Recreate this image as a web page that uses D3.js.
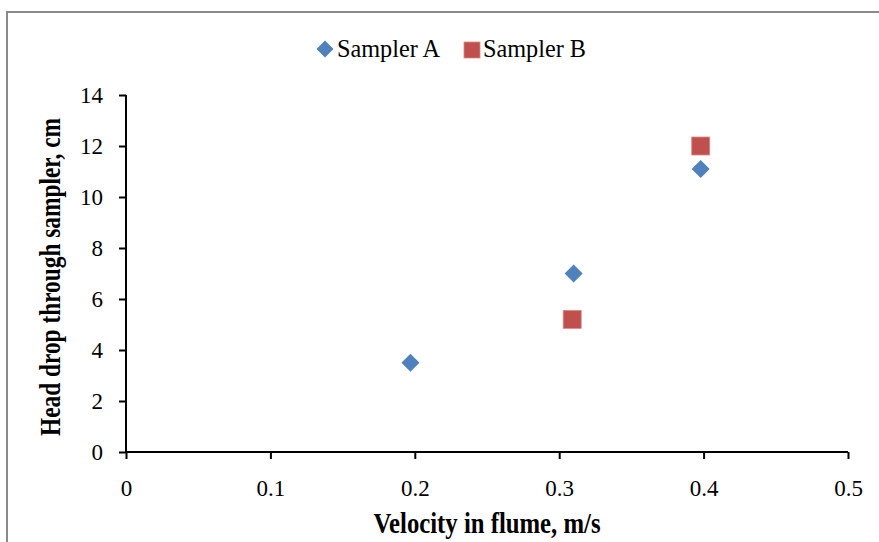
<!DOCTYPE html>
<html>
<head>
<meta charset="utf-8">
<script src="https://cdn.jsdelivr.net/npm/d3@7"></script>
<style>
  html, body { margin: 0; padding: 0; background: #fff; }
  svg { display: block; }
  text { font-family: "Liberation Serif", "Times New Roman", serif; fill: #000; }
</style>
</head>
<body>
<svg id="chart" width="879" height="542"></svg>
<script>
// ---- data ----
const seriesNames = ["Sampler A", "Sampler B"];
const samplerA_x = [0.197, 0.310, 0.398];
const samplerA_y = [3.5, 7.0, 11.1];
const samplerB_x = [0.309, 0.398];
const samplerB_y = [5.2, 12.0];
const xTicks = [0, 0.1, 0.2, 0.3, 0.4, 0.5];
const yTicks = [0, 2, 4, 6, 8, 10, 12, 14];
const xTitle = "Velocity in flume, m/s";
const yTitle = "Head drop through sampler, cm";

// ---- setup ----
const serif = "'Liberation Serif', 'Times New Roman', serif";
const svg = d3.select("#chart");
const W = 879, H = 542;

svg.append("rect").attr("x", 0).attr("y", 0).attr("width", W).attr("height", H).attr("fill", "#fff");
// chart frame (extends beyond right/bottom of view)
svg.append("rect")
  .attr("x", 7).attr("y", 12).attr("width", W + 20).attr("height", H + 20)
  .attr("fill", "none").attr("stroke", "#8a8a8a").attr("stroke-width", 2);

const x = d3.scaleLinear().domain([0, 0.5]).range([126, 848]);
const y = d3.scaleLinear().domain([0, 14]).range([452, 95]);

// axes
const xAxis = d3.axisBottom(x).tickValues(xTicks).tickSize(7).tickFormat(d => d === 0 ? "0" : d3.format(".1f")(d));
const yAxis = d3.axisLeft(y).tickValues(yTicks).tickSize(7).tickFormat(d3.format("d"));

const gx = svg.append("g").attr("transform", `translate(0,${y(0)})`).call(xAxis);
gx.attr("font-family", serif);
gx.select(".domain").attr("d", `M${x(0)},0H${x(0.5)}`).attr("stroke", "#000").attr("stroke-width", 2);
gx.selectAll(".tick line").attr("stroke", "#000").attr("stroke-width", 2);
gx.selectAll(".tick text")
  .attr("y", 44).attr("dy", null)
  .style("font-family", serif)
  .style("font-size", "23px").attr("fill", "#000");

const gy = svg.append("g").attr("transform", `translate(${x(0)},0)`).call(yAxis);
gy.attr("font-family", serif);
gy.select(".domain").attr("d", `M0,${y(0)}V${y(14)}`).attr("stroke", "#000").attr("stroke-width", 2);
gy.selectAll(".tick line").attr("stroke", "#000").attr("stroke-width", 2);
gy.selectAll(".tick text")
  .attr("x", -23).attr("dy", "0.34em")
  .style("font-family", serif)
  .style("font-size", "23px").attr("fill", "#000");

// axis titles (condensed bold)
svg.append("text")
  .attr("x", 487).attr("y", 533)
  .attr("text-anchor", "middle")
  .attr("textLength", 227).attr("lengthAdjust", "spacingAndGlyphs")
  .style("font-family", serif)
  .style("font-size", "29px").style("font-weight", "bold")
  .text(xTitle);

svg.append("text")
  .attr("transform", `translate(60,277) rotate(-90)`)
  .attr("text-anchor", "middle")
  .attr("textLength", 318).attr("lengthAdjust", "spacingAndGlyphs")
  .style("font-family", serif)
  .style("font-size", "29px").style("font-weight", "bold")
  .text(yTitle);

// markers
const colA = "#4F81BD", colB = "#C0504D";
const diamond = s => `M0,${-s}L${s},0L0,${s}L${-s},0Z`;

const dataA = samplerA_x.map((v, i) => ({x: v, y: samplerA_y[i]}));
const dataB = samplerB_x.map((v, i) => ({x: v, y: samplerB_y[i]}));

svg.append("g").selectAll("path").data(dataA).join("path")
  .attr("transform", d => `translate(${x(d.x)},${y(d.y)})`)
  .attr("d", diamond(9))
  .attr("fill", colA);

svg.append("g").selectAll("rect").data(dataB).join("rect")
  .attr("x", d => x(d.x) - 9).attr("y", d => y(d.y) - 9)
  .attr("width", 18).attr("height", 18)
  .attr("fill", colB).attr("stroke", "#d98a88").attr("stroke-width", 0.8);

// legend
const leg = svg.append("g");
leg.append("path").attr("transform", "translate(325,49)").attr("d", diamond(8.5)).attr("fill", colA);
leg.append("text").attr("x", 337).attr("y", 57)
  .style("font-family", serif).style("font-size", "25px")
  .attr("textLength", 103).attr("lengthAdjust", "spacingAndGlyphs").text(seriesNames[0]);
leg.append("rect").attr("x", 464).attr("y", 42).attr("width", 16).attr("height", 16)
  .attr("fill", colB).attr("stroke", "#d98a88").attr("stroke-width", 0.8);
leg.append("text").attr("x", 483).attr("y", 57)
  .style("font-family", serif).style("font-size", "25px")
  .attr("textLength", 103).attr("lengthAdjust", "spacingAndGlyphs").text(seriesNames[1]);
</script>
</body>
</html>
